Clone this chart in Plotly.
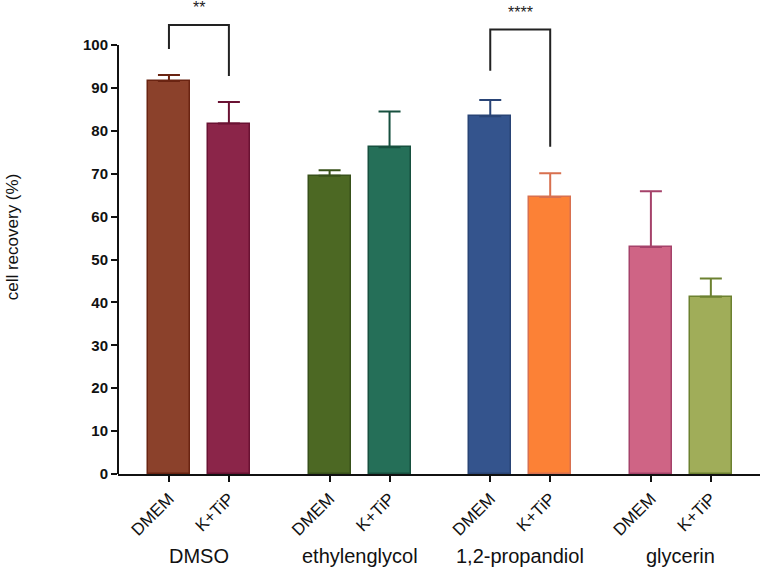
import plotly.graph_objects as go

groups = ['DMSO', 'ethylenglycol', '1,2-propandiol', 'glycerin']
media = ['DMEM', 'K+TiP']
dmem_mean = [91.6, 69.5, 83.4, 52.9]
dmem_top = [93.0, 70.8, 87.2, 65.9]
ktip_mean = [81.7, 76.2, 64.6, 41.3]
ktip_top = [86.7, 84.5, 70.1, 45.6]

fill = ['#8b412b', '#8b2549', '#4c6823', '#256f58',
        '#34548d', '#fc8136', '#cf6485', '#a0ad59']
edge = ['#6a2412', '#6a1233', '#38511a', '#17503f',
        '#294476', '#d8704f', '#a5426a', '#6c8130']

# significance brackets: (group, top level, left leg end, right leg end, label)
sig = [(0, 104.7, 99.1, 92.8, '**'),
       (2, 103.6, 94.0, 76.3, '****')]

GAP = 2.68  # distance between groups, in bar-step units

fig = go.Figure()
xs, labels = [], []
for g in range(len(groups)):
    for m, (mean, top) in enumerate([(dmem_mean, dmem_top), (ktip_mean, ktip_top)]):
        i = g * 2 + m
        x = g * GAP + m
        xs.append(x)
        labels.append(media[m])
        fig.add_trace(go.Bar(
            x=[x], y=[mean[g]], width=0.7,
            marker=dict(color=fill[i], line=dict(color=edge[i], width=1.5)),
            error_y=dict(type='data', symmetric=False,
                         array=[top[g] - mean[g]], arrayminus=[0],
                         color=edge[i], thickness=2, width=11),
            showlegend=False))

for g, top, left, right, txt in sig:
    x0, x1 = g * GAP, g * GAP + 1
    fig.add_trace(go.Scatter(x=[x0, x0, x1, x1], y=[left, top, top, right],
                             mode='lines', line=dict(color='#222', width=2),
                             showlegend=False, hoverinfo='skip'))
    fig.add_annotation(x=(x0 + x1) / 2, y=top + 4.0, text=txt, showarrow=False,
                       font=dict(family='Liberation Sans', size=16, color='#222'),
                       yanchor='middle')

for g, name in enumerate(groups):
    fig.add_annotation(x=g * GAP + 0.5, y=-0.172, yref='paper', text=name,
                       showarrow=False, yanchor='middle',
                       font=dict(family='Liberation Sans', size=20, color='#111'))

# y axis line only up to 100
fig.add_shape(type='line', xref='paper', x0=0, x1=0, yref='y', y0=0, y1=100,
              line=dict(color='#111', width=2))

fig.update_layout(
    width=762, height=576,
    margin=dict(l=118, r=2, t=0, b=102),
    paper_bgcolor='white', plot_bgcolor='white',
    bargap=0,
)
fig.update_xaxes(range=[-0.85, 3 * GAP + 1.82], tickvals=xs, ticktext=labels,
                 tickangle=-45, ticks='outside', ticklen=6, tickwidth=2,
                 tickcolor='#111', showline=True, linecolor='#111', linewidth=2,
                 showgrid=False, zeroline=False,
                 tickfont=dict(family='Liberation Sans', size=17, color='#111'))
fig.update_yaxes(range=[0, 110.5], tickvals=list(range(0, 101, 10)),
                 ticks='outside', ticklen=6, tickwidth=2, tickcolor='#111',
                 showline=False, showgrid=False, zeroline=False,
                 tickfont=dict(family='Liberation Sans', size=15, color='#111',
                               weight='bold'),
                 title=dict(text='cell recovery (%)', standoff=60,
                            font=dict(family='Liberation Sans', size=17,
                                      color='#111')))

fig.write_html('out.html', config={'displayModeBar': False},
               post_script="document.body.style.margin='0px';")
